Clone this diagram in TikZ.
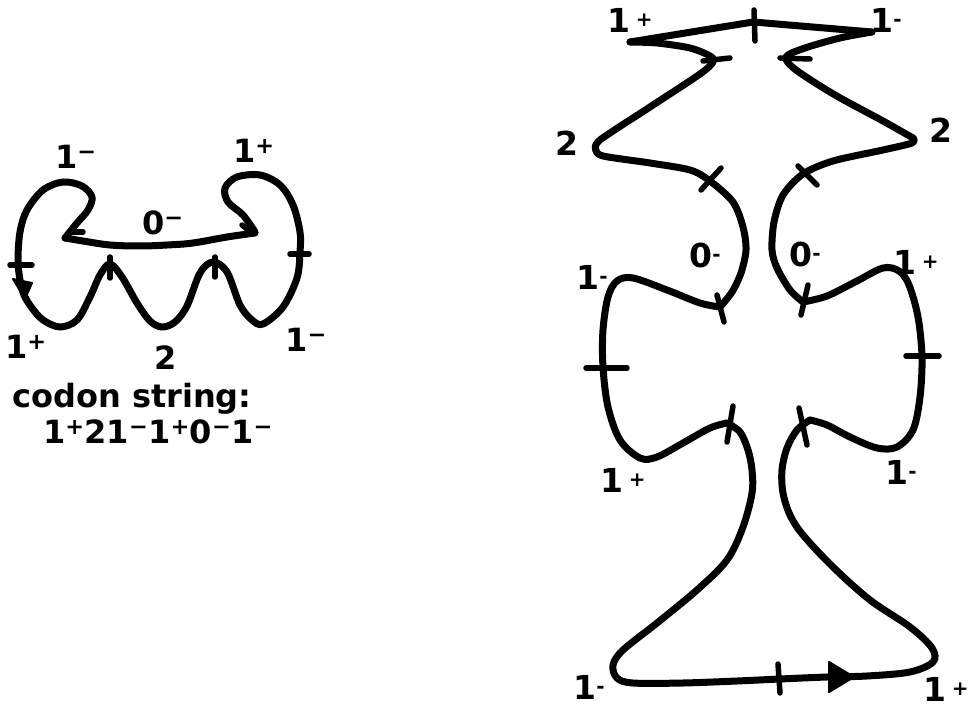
\documentclass[tikz,border=0pt]{standalone}
\usepackage{fontspec}
\setmainfont{DejaVu Sans}
\begin{document}
\begin{tikzpicture}[x=1pt,y=-1pt,
  curve/.style={line width=7pt,line cap=round,line join=round},
  tk/.style={line width=5.5pt,line cap=round},
  lab/.style={font=\bfseries\fontsize{32}{34}\selectfont,inner sep=0pt},
  rlab/.style={font=\bfseries\fontsize{33}{34}\selectfont,inner sep=0pt},
  arrowhd/.style={fill=black,draw=black,line width=2pt,line join=round}]
\newcommand\smsign[1]{\raisebox{6pt}{\fontsize{20}{20}\selectfont #1}}
\useasboundingbox (0,0) rectangle (975,711);
% ---------------- left figure ----------------
\draw[curve] plot[smooth,tension=0.55] coordinates {(65,238) (77,223) (88,210) (92,197) (82,186) (63,182) (43,190) (27,210) (20,232) (18,260) (20,280) (24,295) (32,308) (43,320) (60,327) (77,320) (90,297) (100,275) (110,264) (122,277) (137,303) (150,321) (162,327) (175,322) (187,306) (200,273) (213,262) (227,272) (240,305) (252,320) (263,324) (283,307) (297,278) (300,252) (300,232) (293,205) (280,185) (260,175) (237,177) (225,188) (228,202) (243,215) (255,232)};
\draw[curve] plot[smooth,tension=0.6] coordinates {(65,238) (83,241) (110,245) (140,246) (167,245) (193,243) (227,237) (255,233)};
% ticks left
\draw[tk] (10,265) -- (32,265);
\draw[tk] (110,257) -- (110,278);
\draw[tk] (215,257) -- (215,277);
\draw[tk] (290,254) -- (309,254);
\draw[tk] (72,232) -- (83,232);
\draw[tk] (242,225) -- (252,233);
\draw[arrowhd] (13,279) -- (32,283) -- (25,299) -- cycle;
% left labels
\node[lab] (l1m) at (76,157) {1\textsuperscript{−}};
\node[lab] (l1p) at (254,151) {1\textsuperscript{+}};
\node[lab] (l0m) at (163,223) {0\textsuperscript{−}};
\node[lab] (l1pb) at (26,347) {1\textsuperscript{+}};
\node[lab] (l1mb) at (306,340) {1\textsuperscript{−}};
\node[lab] (l2) at (166,358) {2};
\node[lab] (codon) at (132,399) {codon string:};
\node[lab] (cstr) at (158,432) {1\textsuperscript{+}21\textsuperscript{−}1\textsuperscript{+}0\textsuperscript{−}1\textsuperscript{−}};
% ---------------- right figure ----------------
\draw[curve] (630,42) -- (753,22) -- (872,32);
\draw[curve] plot[smooth,tension=0.5] coordinates {(872,32) (840,38) (805,48) (786,57) (796,70) (835,95) (883,121) (913,138)};
\draw[curve] plot[smooth,tension=0.5] coordinates {(913,138) (912,143) (883,150) (833,161) (803,174) (783,195) (774,222) (772,250) (777,268) (790,290) (803,302)};
\draw[curve] plot[smooth,tension=0.55] coordinates {(803,302) (827,296) (857,281) (883,268) (899,271) (909,285) (918,317) (922,357) (920,397) (913,430) (897,447) (877,448) (850,437) (827,425) (810,420)};
\draw[curve] plot[smooth,tension=0.55] coordinates {(810,420) (797,430) (787,448) (782,470) (783,493) (790,515) (803,535) (833,567) (870,600) (910,627) (932,648) (933,662) (910,672) (867,676) (827,677) (780,679) (737,681) (683,683) (633,683) (617,678) (613,665) (623,650) (657,623) (697,590) (727,560) (743,527) (752,493) (752,470) (748,450) (740,432) (727,423)};
\draw[curve] plot[smooth,tension=0.55] coordinates {(727,423) (710,428) (683,443) (657,457) (640,458) (620,440) (608,407) (603,367) (603,330) (608,297) (617,281) (633,278) (667,290) (700,303) (720,307)};
\draw[curve] plot[smooth,tension=0.5] coordinates {(720,307) (732,292) (741,273) (746,250) (743,227) (733,202) (710,181) (690,170) (650,163) (603,156) (596,150)};
\draw[curve] plot[smooth,tension=0.5] coordinates {(596,150) (600,140) (650,107) (700,74) (713,62) (710,56) (690,48) (657,43) (630,42)};
% ticks right
\draw[tk] (754,10) -- (755,41);
\draw[tk] (703,61) -- (730,58);
\draw[tk] (780,58) -- (810,59);
\draw[tk] (701,190) -- (721,168);
\draw[tk] (798,166) -- (817,185);
\draw[tk] (717,295) -- (724,322);
\draw[tk] (808,285) -- (801,315);
\draw[tk] (586,368) -- (627,368);
\draw[tk] (906,356) -- (939,356);
\draw[tk] (733,406) -- (727,442);
\draw[tk] (799,408) -- (807,445);
\draw[tk] (778,664) -- (780,693);
\draw[arrowhd] (829,662) -- (854,677) -- (829,692) -- cycle;
% right labels
\node[rlab] (r1) at (630,20) {1\,\smsign{+}};
\node[rlab] (r2) at (886,20) {1\smsign{-}};
\node[rlab] (r3) at (567,143) {2};
\node[rlab] (r4) at (941,130) {2};
\node[rlab] (r5) at (705,255) {0\smsign{-}};
\node[rlab] (r6) at (805,254) {0\smsign{-}};
\node[rlab] (r7) at (592,277) {1\smsign{-}};
\node[rlab] (r8) at (916,262) {1\,\smsign{+}};
\node[rlab] (r9) at (623,480) {1\,\smsign{+}};
\node[rlab] (r10) at (901,472) {1\smsign{-}};
\node[rlab] (r11) at (589,687) {1\smsign{-}};
\node[rlab] (r12) at (946,689) {1\,\smsign{+}};
\end{tikzpicture}
\end{document}
